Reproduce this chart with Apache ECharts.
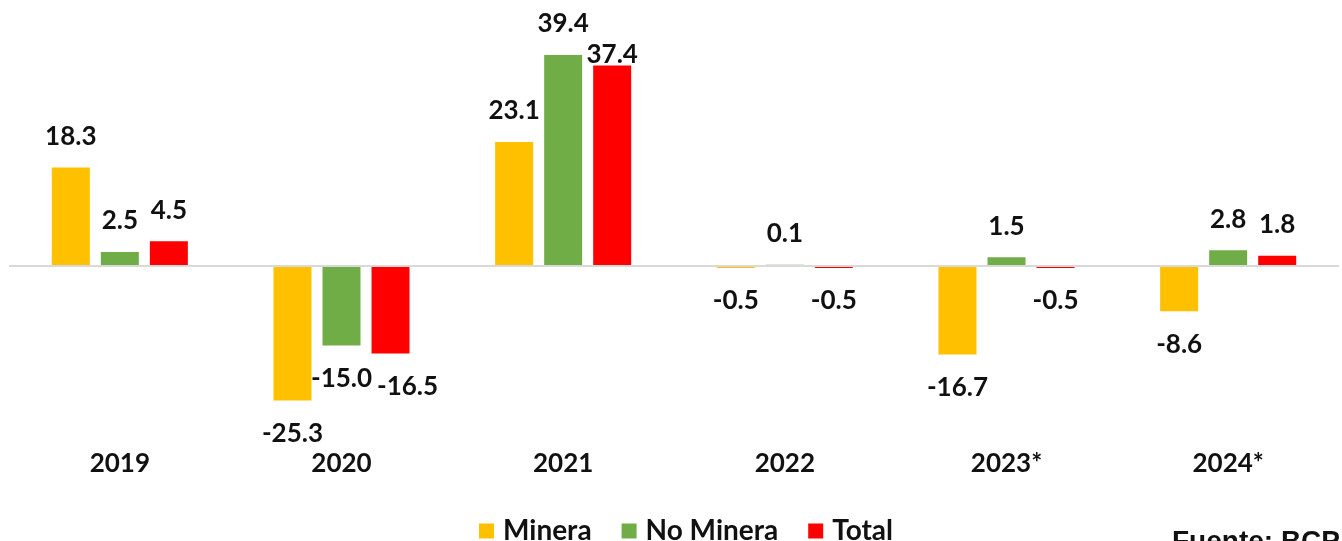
<!DOCTYPE html>
<html>
<head>
<meta charset="utf-8">
<script src="https://cdn.jsdelivr.net/npm/echarts@6/dist/echarts.min.js"></script>
<style>
  html, body { margin: 0; padding: 0; background: #ffffff; }
  #chart { width: 1342px; height: 541px; }
</style>
</head>
<body>
<div id="chart"></div>
<script>
// ---- Data ----
const categories = ['2019', '2020', '2021', '2022', '2023*', '2024*'];
const seriesNames = ['Minera', 'No Minera', 'Total'];
const minera = [18.3, -25.3, 23.1, -0.5, -16.7, -8.6];
const noMinera = [2.5, -15.0, 39.4, 0.1, 1.5, 2.8];
const total = [4.5, -16.5, 37.4, -0.5, -0.5, 1.8];
const sourceText = 'Fuente: BCP';

// ---- Styling ----
const colors = ['#FFC000', '#70AD47', '#FF0000'];
const FONT = 'Lato, "Open Sans", sans-serif';
// label nudges (series index -> category index -> [dx, dy])
const labelNudges = {
  2: { 1: [17, 0], 2: [0, 20] },
};

const chart = echarts.init(document.getElementById('chart'), null, { renderer: 'canvas' });

function buildData(values, sIdx) {
  return values.map((v, i) => {
    const neg = v < 0;
    const nudge = (labelNudges[sIdx] && labelNudges[sIdx][i]) || [0, 0];
    return {
      value: v,
      label: {
        position: neg ? 'bottom' : 'top',
        distance: neg ? 20 : 18,
        offset: nudge
      }
    };
  });
}

const barSeries = [minera, noMinera, total].map((vals, s) => ({
  name: seriesNames[s],
  type: 'bar',
  z: 3,
  barWidth: 38,
  barGap: '29%',
  itemStyle: { color: colors[s] },
  data: buildData(vals, s),
  label: {
    show: true,
    fontFamily: FONT,
    fontWeight: 'bold',
    fontSize: 26,
    color: '#111',
    formatter: p => p.value.toFixed(1)
  }
}));

// zero baseline drawn beneath the bars
const baselineSeries = {
  name: 'baseline',
  type: 'line',
  z: 1,
  data: [],
  silent: true,
  markLine: {
    silent: true,
    symbol: ['none', 'none'],
    label: { show: false },
    lineStyle: { color: '#D9D9D9', width: 2, type: 'solid' },
    data: [{ yAxis: 0 }]
  }
};

const option = {
  animation: false,
  backgroundColor: '#ffffff',
  grid: { left: 9, right: 3, top: 25, bottom: 115.5, containLabel: false },
  legend: {
    data: seriesNames,
    left: 474,
    top: 512,
    itemWidth: 15,
    itemHeight: 15,
    itemGap: 30,
    icon: 'rect',
    textStyle: {
      fontFamily: FONT, fontWeight: 'bold', fontSize: 28, color: '#111',
      padding: [0, 0, 0, 4]
    }
  },
  xAxis: {
    type: 'category',
    data: categories,
    axisLine: { show: false, onZero: false },
    axisTick: { show: false },
    axisLabel: {
      margin: 25,
      fontFamily: FONT,
      fontWeight: 'bold',
      fontSize: 26,
      color: '#111'
    }
  },
  yAxis: {
    type: 'value',
    min: -30,
    max: 45,
    show: false,
    splitLine: { show: false }
  },
  graphic: [{
    type: 'text',
    left: 1172,
    top: 528,
    style: {
      text: sourceText,
      font: 'bold 28px "Liberation Sans", Arial, sans-serif',
      fill: '#111'
    }
  }],
  series: [baselineSeries].concat(barSeries)
};

chart.setOption(option);
</script>
</body>
</html>
